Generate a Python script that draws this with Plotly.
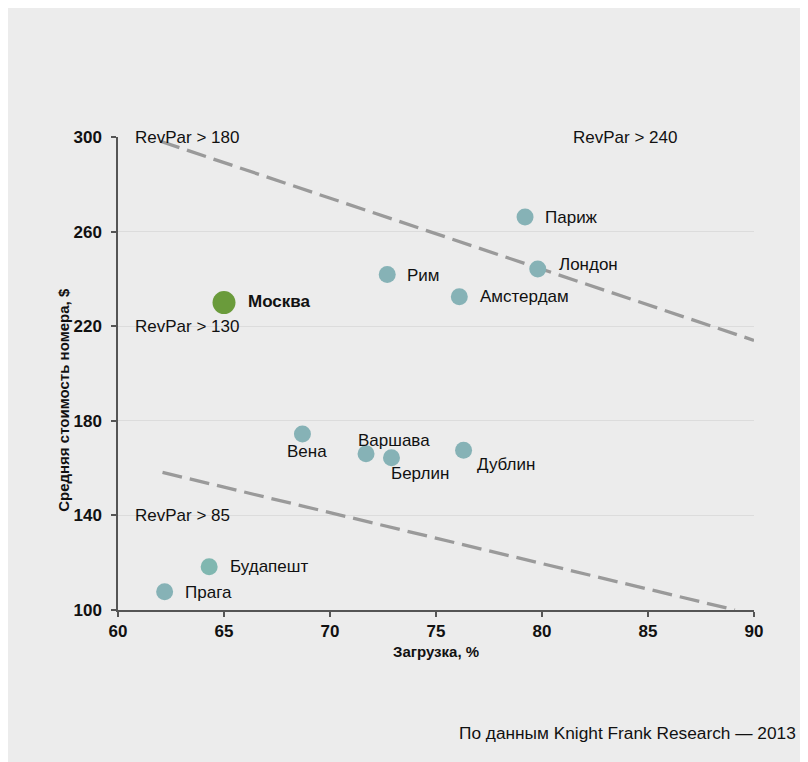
import plotly.graph_objects as go

# ---- data ----
cities = ["Париж", "Лондон", "Рим", "Амстердам", "Москва", "Вена",
          "Варшава", "Берлин", "Дублин", "Будапешт", "Прага"]
occupancy = [79.2, 79.8, 72.7, 76.1, 65.0, 68.7, 71.7, 72.9, 76.3, 64.3, 62.2]
price = [266.2, 244.2, 241.9, 232.5, 230.0, 174.4, 166.1, 164.4, 167.5, 118.3, 107.7]

upper_line_x = [62.0, 90.0]
upper_line_y = [298.2, 214.0]
lower_line_x = [62.1, 89.1]
lower_line_y = [158.2, 100.0]

revpar_labels = ["RevPar > 180", "RevPar > 240", "RevPar > 130", "RevPar > 85"]
revpar_x = [60.8, 81.45, 60.8, 60.8]
revpar_y = [300, 300, 220, 140]

x_ticks = [60, 65, 70, 75, 80, 85, 90]
y_ticks = [100, 140, 180, 220, 260, 300]

x_title = "Загрузка, %"
y_title = "Средняя стоимость номера, $"
source = "По данным Knight Frank Research — 2013"

# ---- styles ----
FONT = "Liberation Sans, Arial, Helvetica, sans-serif"
TEAL = "#86b2b6"
colors = [TEAL, TEAL, TEAL, TEAL, "#6a9b3b", TEAL, TEAL, TEAL, TEAL, "#80b7b0", TEAL]
sizes = [17, 17, 17, 17, 23, 17, 17, 17, 17, 17, 17]
# label placement per city: (xanchor, xshift px, yshift px, bold)
label_style = {
    "Париж": ("left", 18, -1, False),
    "Лондон": ("left", 19, 4, False),
    "Рим": ("left", 18, -1, False),
    "Амстердам": ("left", 19, 0, False),
    "Москва": ("left", 22, 1, True),
    "Вена": ("center", 5, -17, False),
    "Варшава": ("center", 28, 13, False),
    "Берлин": ("left", -2, -16, False),
    "Дублин": ("left", 11, -14, False),
    "Будапешт": ("left", 19, 0, False),
    "Прага": ("left", 18, -1, False),
}

fig = go.Figure()

for lx, ly in [(upper_line_x, upper_line_y), (lower_line_x, lower_line_y)]:
    fig.add_trace(go.Scatter(
        x=lx, y=ly, mode="lines",
        line=dict(color="#9a9a9a", width=3.3, dash="20px,8px"),
        hoverinfo="skip", showlegend=False))

fig.add_trace(go.Scatter(
    x=occupancy, y=price, mode="markers",
    marker=dict(color=colors, size=sizes, opacity=1, line=dict(width=0)),
    text=cities, hoverinfo="text", showlegend=False, cliponaxis=False))

annotations = []
for c, xv, yv in zip(cities, occupancy, price):
    anc, dx, dy, bold = label_style[c]
    annotations.append(dict(
        x=xv, y=yv, xref="x", yref="y", text=f"<b>{c}</b>" if bold else c,
        showarrow=False, xanchor=anc, yanchor="middle", xshift=dx, yshift=dy,
        font=dict(family=FONT, size=17, color="#111111")))

for t, xv, yv in zip(revpar_labels, revpar_x, revpar_y):
    annotations.append(dict(
        x=xv, y=yv, xref="x", yref="y", text=t, showarrow=False,
        xanchor="left", yanchor="middle", xshift=-2,
        font=dict(family=FONT, size=17, color="#111111")))

annotations.append(dict(
    x=0.50, y=-0.087, xref="paper", yref="paper", text=f"<b>{x_title}</b>",
    showarrow=False, xanchor="center", yanchor="middle", borderpad=0,
    font=dict(family=FONT, size=15, color="#111111")))
annotations.append(dict(
    x=-0.087, y=0.4437, xref="paper", yref="paper", text=f"<b>{y_title}</b>",
    showarrow=False, xanchor="center", yanchor="middle", textangle=-90,
    font=dict(family=FONT, size=15, color="#111111")))
annotations.append(dict(
    x=1.0697, y=-0.2599, xref="paper", yref="paper", text=source,
    showarrow=False, xanchor="right", yanchor="middle",
    font=dict(family=FONT, size=17.3, color="#111111")))

fig.update_layout(
    width=800, height=754,
    margin=dict(l=110, r=54, t=129, b=152, pad=0),
    paper_bgcolor="#ececec",
    plot_bgcolor="#ececec",
    annotations=annotations,
    xaxis=dict(range=[60, 90], tickvals=x_ticks, showgrid=False, zeroline=False,
               showline=True, linecolor="#555555", linewidth=1.5,
               ticks="outside", ticklen=5, tickcolor="#555555", tickwidth=1.5,
               tickfont=dict(family=FONT, size=17, color="#111111", weight="bold")),
    yaxis=dict(range=[100, 300], tickvals=y_ticks, showgrid=True,
               gridcolor="#dcdcdc", gridwidth=1, zeroline=False,
               showline=True, linecolor="#555555", linewidth=1.5,
               ticks="outside", ticklen=5, tickcolor="#555555", tickwidth=1.5,
               ticklabelstandoff=6,
               tickfont=dict(family=FONT, size=17, color="#111111", weight="bold")),
    showlegend=False,
)

fig.write_html("out.html")
